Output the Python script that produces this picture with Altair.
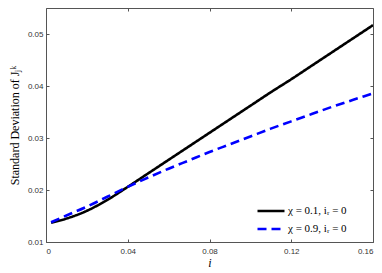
import altair as alt
import pandas as pd

x_vals = [0.0025, 0.01, 0.02, 0.03, 0.04, 0.05, 0.06, 0.07, 0.08, 0.09,
          0.10, 0.11, 0.12, 0.13, 0.14, 0.15, 0.16]
black_y = [0.0137, 0.0145, 0.0160, 0.0181, 0.0206, 0.0232, 0.0258, 0.0284,
           0.0310, 0.0336, 0.0362, 0.0388, 0.0413, 0.0439, 0.0465, 0.0491, 0.0517]
blue_y = [0.0138, 0.0151, 0.0168, 0.0187, 0.0206, 0.0224, 0.0241, 0.0257,
          0.0273, 0.0288, 0.0303, 0.0318, 0.0332, 0.0346, 0.0360, 0.0373, 0.0386]
series_names = ["χ = 0.1, iᵣ = 0", "χ = 0.9, iᵣ = 0"]
x_ticks = [0, 0.04, 0.08, 0.12, 0.16]
y_ticks = [0.01, 0.02, 0.03, 0.04, 0.05]

df = pd.DataFrame({
    "x": x_vals + x_vals,
    "y": black_y + blue_y,
    "series": [series_names[0]] * len(x_vals) + [series_names[1]] * len(x_vals),
})

xs = alt.Scale(domain=[0, 0.16], nice=False, zero=False)
ys = alt.Scale(domain=[0.01, 0.055], nice=False, zero=False)

lab_font = "Liberation Sans"
lab_color = "#333333"

legend_cfg = alt.Legend(
    title=None, orient="none", legendX=219, legendY=197,
    symbolType="M-3,0H3", symbolSize=81, symbolStrokeWidth=2.6,
    labelFont="Liberation Serif", labelFontSize=11, labelColor="black",
    rowPadding=6, labelOffset=11,
)

lines = alt.Chart(df).mark_line(strokeWidth=2.6, clip=True, interpolate="monotone").encode(
    x=alt.X("x:Q", scale=xs, axis=alt.Axis(
        orient="bottom", values=x_ticks, ticks=False, domain=False, grid=False,
        labelExpr="datum.value == 0 ? '0' : format(datum.value, '.2f')",
        labelFont=lab_font, labelFontSize=8, labelColor=lab_color, labelPadding=5,
        title="i", titleFont="Liberation Serif", titleFontStyle="italic",
        titleFontWeight="normal", titleFontSize=12, titleColor="black", titlePadding=2)),
    y=alt.Y("y:Q", scale=ys, axis=alt.Axis(
        orient="left", values=y_ticks, ticks=False, domain=False, grid=False,
        format=".2f", labelFont=lab_font, labelFontSize=8, labelColor=lab_color, labelPadding=3,
        title="Standard Deviation of Jⱼᵏ", titleFont="Liberation Serif",
        titleFontWeight="normal", titleFontSize=12, titleColor="black", titlePadding=6)),
    color=alt.Color("series:N", scale=alt.Scale(domain=series_names, range=["#000000", "#0000ff"]),
                    legend=legend_cfg),
    strokeDash=alt.StrokeDash("series:N", scale=alt.Scale(domain=series_names, range=[[1, 0], [9, 5]]),
                              legend=legend_cfg),
)

tick_axis = dict(ticks=True, tickSize=3, labels=False, domain=False, grid=False, title=None,
                 tickColor="#555555", tickWidth=1)

ticks_in = alt.Chart(df).mark_line(opacity=0).encode(
    x=alt.X("x:Q", scale=xs, axis=alt.Axis(orient="bottom", offset=-3, values=x_ticks, **tick_axis)),
    y=alt.Y("y:Q", scale=ys, axis=alt.Axis(orient="left", offset=-3, values=y_ticks, **tick_axis)),
    detail="series:N",
)
ticks_mirror = alt.Chart(df).mark_line(opacity=0).encode(
    x=alt.X("x:Q", scale=xs, axis=alt.Axis(orient="top", offset=-3, values=x_ticks, **tick_axis)),
    y=alt.Y("y:Q", scale=ys, axis=alt.Axis(orient="right", offset=-3, values=y_ticks, **tick_axis)),
    detail="series:N",
)

chart = alt.layer(lines, ticks_in, ticks_mirror).resolve_axis(
    x="independent", y="independent"
).properties(
    width=327, height=234,
    autosize=alt.AutoSizeParams(type="none"),
    padding={"left": 38, "top": 0, "right": 1, "bottom": 28},
).configure_view(stroke="#555555", strokeWidth=1)

chart.save("out.html", embed_options={"renderer": "svg", "actions": False})
